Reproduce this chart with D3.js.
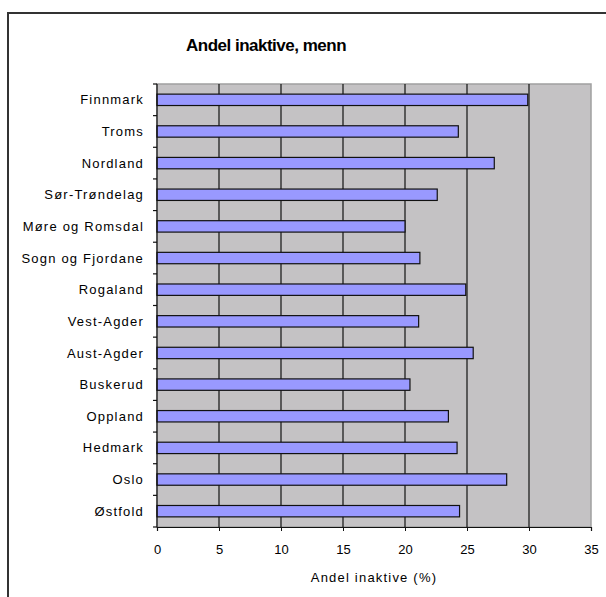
<!DOCTYPE html>
<html>
<head>
<meta charset="utf-8">
<script src="https://cdn.jsdelivr.net/npm/d3@7.9.0/dist/d3.min.js"></script>
<style>
  body { margin: 0; background: #fff; }
  svg { display: block; font-family: "Liberation Sans", Arial, sans-serif; }
</style>
</head>
<body>
<svg width="606" height="597"></svg>
<script>
// fylker, top to bottom as drawn
const regions = ['Finnmark', 'Troms', 'Nordland', 'Sør-Trøndelag', 'Møre og Romsdal',
    'Sogn og Fjordane', 'Rogaland', 'Vest-Agder', 'Aust-Agder', 'Buskerud',
    'Oppland', 'Hedmark', 'Oslo', 'Østfold'];
const inactiveShare = [29.9, 24.3, 27.2, 22.6, 20.0, 21.2, 24.9, 21.1, 25.5, 20.4,
    23.5, 24.2, 28.2, 24.4];
const xTicks = [0, 5, 10, 15, 20, 25, 30, 35];

const svg = d3.select('svg');

// outer chart frame (runs off the page on right and bottom)
svg.append('rect')
    .attr('x', 8).attr('y', 13)
    .attr('width', 640).attr('height', 640)
    .attr('fill', 'none')
    .attr('stroke', '#333')
    .attr('stroke-width', 2);

const margin = {left: 157, top: 84, right: 591, bottom: 527};

let x = d3.scaleLinear().domain([0, 35]).range([margin.left, margin.right]);
let y = d3.scaleBand().domain(regions).range([margin.top, margin.bottom])
    .paddingInner(0.64).paddingOuter(0.32);

// plot area
svg.append('rect')
    .attr('x', margin.left).attr('y', margin.top)
    .attr('width', margin.right - margin.left)
    .attr('height', margin.bottom - margin.top)
    .attr('fill', '#c4c2c4')
    .attr('stroke', '#a0a0a0')
    .attr('stroke-width', 1.5);

// vertical gridlines
svg.append('g')
    .selectAll('line')
    .data(xTicks.slice(1, -1))
    .join('line')
    .attr('x1', (d) => x(d)).attr('x2', (d) => x(d))
    .attr('y1', margin.top).attr('y2', margin.bottom)
    .attr('stroke', '#111')
    .attr('stroke-width', 1.2);

// bars
svg.append('g')
    .selectAll('rect')
    .data(regions)
    .join('rect')
    .attr('x', x(0))
    .attr('y', (d) => y(d))
    .attr('width', (d, i) => x(inactiveShare[i]) - x(0))
    .attr('height', y.bandwidth())
    .attr('fill', '#9999ff')
    .attr('stroke', '#111')
    .attr('stroke-width', 1.2);

// x axis
let xAxis = d3.axisBottom(x).tickValues(xTicks).tickSize(4).tickPadding(14);
let gx = svg.append('g')
    .attr('transform', `translate(0,${margin.bottom})`)
    .call(xAxis);
gx.select('.domain').attr('stroke', '#111').attr('stroke-width', 1.2);
gx.selectAll('line').attr('stroke', '#111');
gx.selectAll('text').attr('font-size', 13).attr('fill', '#000');

// y axis: ticks sit on band boundaries, labels in the middle
let boundaries = d3.range(regions.length + 1).map((i) => margin.top + i * (margin.bottom - margin.top) / regions.length);
let gy = svg.append('g');
gy.append('line')
    .attr('x1', margin.left).attr('x2', margin.left)
    .attr('y1', margin.top).attr('y2', margin.bottom)
    .attr('stroke', '#111').attr('stroke-width', 1.2);
gy.selectAll('line.tick')
    .data(boundaries)
    .join('line')
    .attr('class', 'tick')
    .attr('x1', margin.left - 4).attr('x2', margin.left)
    .attr('y1', (d) => d).attr('y2', (d) => d)
    .attr('stroke', '#111').attr('stroke-width', 1.2);
gy.selectAll('text')
    .data(regions)
    .join('text')
    .attr('x', margin.left - 13)
    .attr('y', (d) => y(d) + y.bandwidth() / 2)
    .attr('dy', '0.35em')
    .attr('text-anchor', 'end')
    .attr('font-size', 13)
    .attr('letter-spacing', 1.2)
    .text((d) => d);

// titles
svg.append('text')
    .attr('x', 266).attr('y', 51)
    .attr('text-anchor', 'middle')
    .attr('font-size', 17)
    .attr('font-weight', 'bold')
    .attr('letter-spacing', -0.5)
    .text('Andel inaktive, menn');

svg.append('text')
    .attr('x', 374).attr('y', 582)
    .attr('text-anchor', 'middle')
    .attr('font-size', 13)
    .attr('letter-spacing', 1.2)
    .text('Andel inaktive (%)');
</script>
</body>
</html>
